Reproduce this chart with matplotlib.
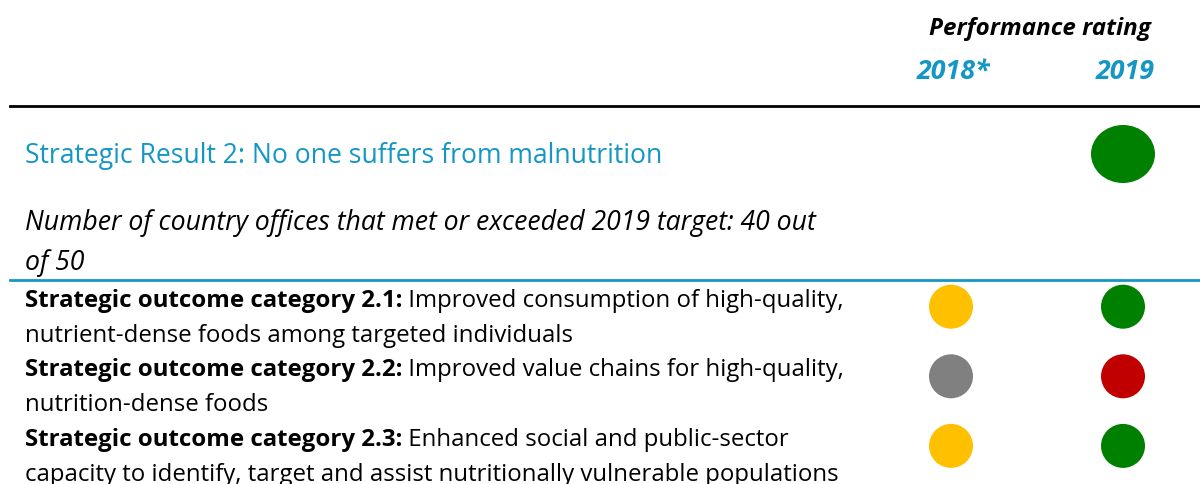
import matplotlib
matplotlib.use("Agg")
import matplotlib.pyplot as plt
from matplotlib.patches import Ellipse

# data
years = ["2018*", "2019"]
result_title = "Strategic Result 2: No one suffers from malnutrition"
result_note = ["Number of country offices that met or exceeded 2019 target: 40 out",
               "of 50"]
result_rating = [None, "green"]
category_heads = ["Strategic outcome category 2.1:",
                  "Strategic outcome category 2.2:",
                  "Strategic outcome category 2.3:"]
category_texts = [
    ["Improved consumption of high-quality,",
     "nutrient-dense foods among targeted individuals"],
    ["Improved value chains for high-quality,",
     "nutrition-dense foods"],
    ["Enhanced social and public-sector",
     "capacity to identify, target and assist nutritionally vulnerable populations"],
]
rating_2018 = ["yellow", "grey", "yellow"]
rating_2019 = ["green", "red", "green"]

colors = {"green": "#008000", "yellow": "#FFC000", "grey": "#808080", "red": "#C00000"}
blue = "#1497C4"
font = "Open Sans"

W, H = 1200, 484
fig = plt.figure(figsize=(W / 100, H / 100), dpi=100)
ax = fig.add_axes([0, 0, 1, 1])
ax.set_xlim(0, W)
ax.set_ylim(H, 0)
ax.axis("off")

col_x = [951, 1123]

# header
ax.text(1040, 35, "Performance rating", family=font, fontsize=17.4,
        weight="bold", style="italic", ha="center", va="baseline")
for x, y in zip(col_x, years):
    ax.text(x + 2, 79, y, family=font, fontsize=19.3, weight="bold",
            style="italic", color=blue, ha="center", va="baseline")
ax.plot([10, W], [106, 106], color="black", lw=2)

# strategic result
ax.text(25, 163, result_title, family=font, fontsize=19.1, color=blue,
        va="baseline")
for i, r in enumerate(result_rating):
    if r:
        ax.add_patch(Ellipse((col_x[i], 154), 64, 58, color=colors[r], lw=0))
for i, line in enumerate(result_note):
    ax.text(25, 230 + i * 40, line, family=font, fontsize=19.2,
            style="italic", va="baseline")
ax.plot([10, W], [280, 280], color=blue, lw=2)

# outcome categories, two text lines per row
row0, line_h = 306.7, 34.8
fs = 17.25
for i, (head, body) in enumerate(zip(category_heads, category_texts)):
    y1 = row0 + 2 * i * line_h
    t = ax.text(25, y1, head, family=font, fontsize=fs, weight="bold",
                va="baseline")
    ax.annotate(" " + body[0], xy=(1, 0), xycoords=t, family=font,
                fontsize=fs, va="bottom")
    ax.text(25, y1 + line_h, body[1], family=font, fontsize=fs,
            va="baseline")
    yc = y1
    ax.add_patch(Ellipse((col_x[0], yc), 44, 44, color=colors[rating_2018[i]], lw=0))
    ax.add_patch(Ellipse((col_x[1], yc), 44, 44, color=colors[rating_2019[i]], lw=0))

fig.savefig("out.png", dpi=100)
